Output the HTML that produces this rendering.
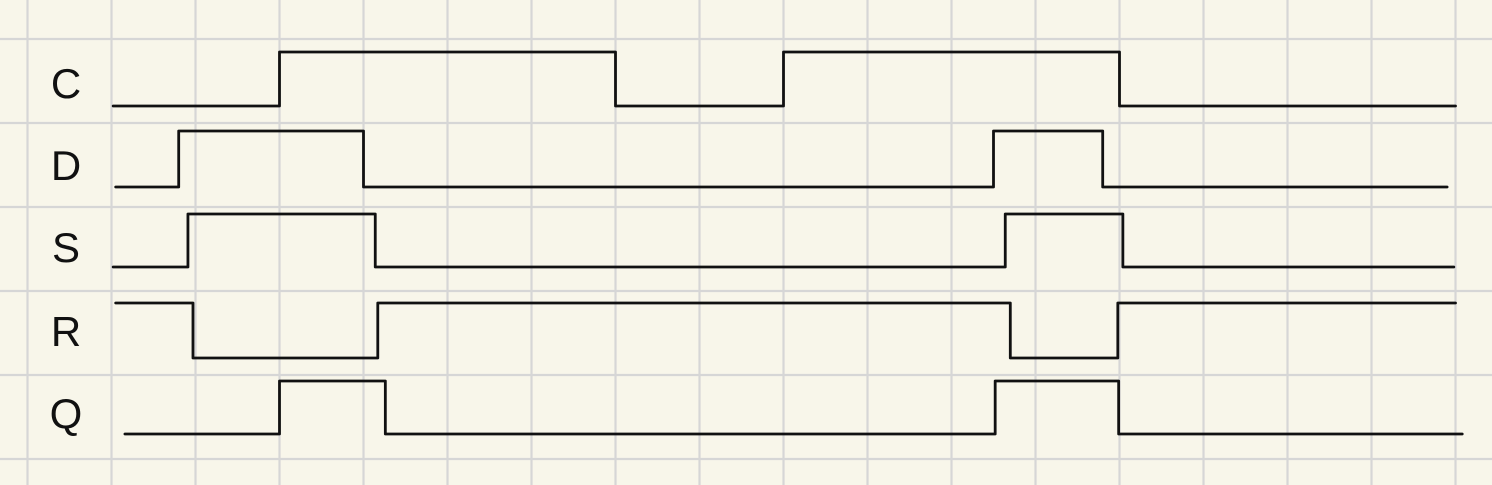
<!DOCTYPE html>
<html><head><meta charset="utf-8"><style>
html,body{margin:0;padding:0;background:#f8f6ea;}
svg{display:block;}
.lbl{font-family:"Liberation Sans",sans-serif;font-size:42px;font-weight:300;fill:#111;}
</style></head><body>
<svg id="chart" width="1492" height="485" viewBox="0 0 1492 485" xmlns="http://www.w3.org/2000/svg">
<rect width="1492" height="485" fill="#f8f6ea"/>
<g id="grid"></g>
<g id="labels"></g>
<g id="waves"></g>
</svg>
<script>
// signal names
const signals = ["C","D","S","R","Q"];
// transition times in grid units (first = start, last = end)
const C_times = [1.02, 3.0, 7.0, 9.0, 13.0, 17.0];
const D_times = [1.05, 1.8, 4.0, 11.5, 12.8, 16.9];
const S_times = [1.02, 1.91, 4.14, 11.64, 13.04, 16.98];
const R_times = [1.05, 1.97, 4.17, 11.7, 12.98, 17.0];
const Q_times = [1.16, 3.0, 4.26, 11.52, 12.99, 17.08];
// starting logic levels
const startLevels = [0, 0, 0, 1, 0];

const NS="http://www.w3.org/2000/svg";
const x0=27.5, cell=84, y0=39;
const xScale = t => x0 + cell*t;
const highY=[52,131,214,303,381];
const lowY=[106,187,267,358,434];
const rowHigh = i => highY[i];
const rowLow = i => lowY[i];

const grid=document.getElementById('grid');
for(let k=0;k<18;k++){
  const l=document.createElementNS(NS,'line');
  const x=x0+cell*k;
  l.setAttribute('x1',x);l.setAttribute('x2',x);l.setAttribute('y1',0);l.setAttribute('y2',485);
  l.setAttribute('stroke','#d6d6d6');l.setAttribute('stroke-width','2.2');
  
  
  grid.appendChild(l);
}
for(let k=0;k<6;k++){
  const l=document.createElementNS(NS,'line');
  const y=y0+cell*k;
  l.setAttribute('x1',0);l.setAttribute('x2',1492);l.setAttribute('y1',y);l.setAttribute('y2',y);
  l.setAttribute('stroke','#d6d6d6');l.setAttribute('stroke-width','2.2');
  
  
  grid.appendChild(l);
}

const labels=document.getElementById('labels');
const waves=document.getElementById('waves');
const allTimes=[C_times,D_times,S_times,R_times,Q_times];
const labelY=[98,180,262,346,428];
signals.forEach((s,i)=>{
  const t=document.createElementNS(NS,'text');
  t.setAttribute('x',66);t.setAttribute('y',labelY[i]);
  t.setAttribute('text-anchor','middle');t.setAttribute('class','lbl');
  t.textContent=s;
  
  
  labels.appendChild(t);

  const times=allTimes[i];
  let lvl=startLevels[i];
  const yOf=v=>v?rowHigh(i):rowLow(i);
  let d='M'+xScale(times[0])+' '+yOf(lvl);
  for(let k=1;k<times.length;k++){
    const x=xScale(times[k]);
    d+=' L'+x+' '+yOf(lvl);
    if(k<times.length-1){lvl=1-lvl;d+=' L'+x+' '+yOf(lvl);}
  }
  const p=document.createElementNS(NS,'path');
  p.setAttribute('d',d);p.setAttribute('fill','none');p.setAttribute('stroke','#111');
  p.setAttribute('stroke-width','2.8');p.setAttribute('stroke-linejoin','round');p.setAttribute('stroke-linecap','round');
  
  
  waves.appendChild(p);
});
</script>
</body></html>
